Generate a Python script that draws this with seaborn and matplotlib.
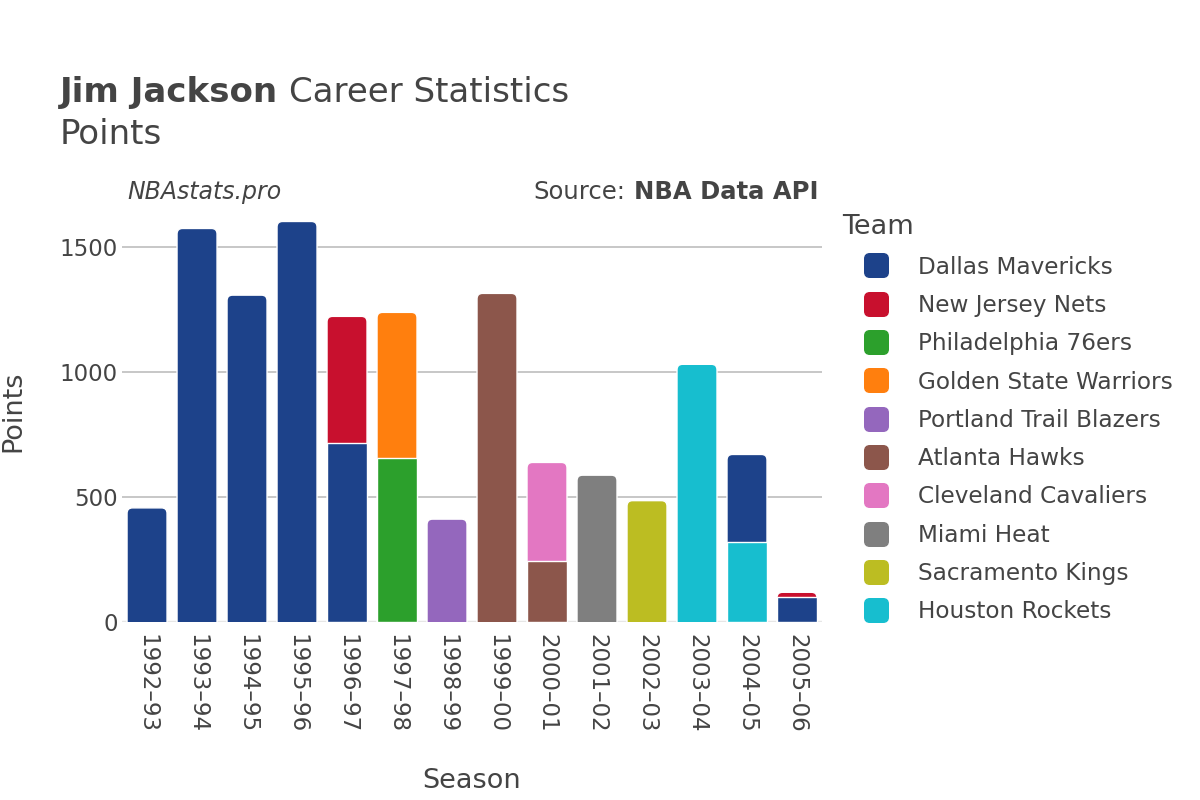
import matplotlib
matplotlib.use("Agg")
import matplotlib.pyplot as plt
from matplotlib.lines import Line2D
from matplotlib.patches import FancyBboxPatch
import numpy as np
import pandas as pd
import seaborn as sns

# ---- data ----
seasons = ["1992\u201393", "1993\u201394", "1994\u201395", "1995\u201396", "1996\u201397",
           "1997\u201398", "1998\u201399", "1999\u201300", "2000\u201301", "2001\u201302",
           "2002\u201303", "2003\u201304", "2004\u201305", "2005\u201306"]

# one row per stint, in the order the segments stack inside a season
seg_season = ["1992\u201393", "1993\u201394", "1994\u201395", "1995\u201396",
              "1996\u201397", "1996\u201397", "1997\u201398", "1997\u201398",
              "1998\u201399", "1999\u201300", "2000\u201301", "2000\u201301",
              "2001\u201302", "2002\u201303", "2003\u201304", "2004\u201305",
              "2004\u201305", "2005\u201306", "2005\u201306"]
seg_team = ["Dallas Mavericks", "Dallas Mavericks", "Dallas Mavericks", "Dallas Mavericks",
            "Dallas Mavericks", "New Jersey Nets", "Philadelphia 76ers", "Golden State Warriors",
            "Portland Trail Blazers", "Atlanta Hawks", "Atlanta Hawks", "Cleveland Cavaliers",
            "Miami Heat", "Sacramento Kings", "Houston Rockets", "Houston Rockets",
            "Dallas Mavericks", "Dallas Mavericks", "New Jersey Nets"]
seg_points = [457, 1576, 1309, 1604, 715, 509, 657, 583, 412, 1316, 244, 395,
              588, 486, 1032, 321, 350, 99, 20]

teams = ["Dallas Mavericks", "New Jersey Nets", "Philadelphia 76ers", "Golden State Warriors",
         "Portland Trail Blazers", "Atlanta Hawks", "Cleveland Cavaliers", "Miami Heat",
         "Sacramento Kings", "Houston Rockets"]
team_colors = ["#1d428a", "#c8102e", "#2ca02c", "#ff7f0e", "#9467bd",
               "#8c564b", "#e377c2", "#7f7f7f", "#bcbd22", "#17becf"]

TXT = "#444444"
YMAX = 1690

df = pd.DataFrame({"season": seg_season, "team": seg_team, "points": seg_points})
df["level"] = df.groupby("season").cumcount()
df["top"] = df.groupby("season")["points"].cumsum()
totals = df.groupby("season")["points"].sum()

sns.set_theme(style="white")
plt.rcParams["font.family"] = ["DejaVu Sans"]

fig = plt.figure(figsize=(12, 8), dpi=100)
ax = fig.add_axes([0.1017, 0.2225, 0.5833, 0.5275])

palette = dict(zip(teams, team_colors))
# draw highest stack level first, lower segments painted over it
for lvl in sorted(df["level"].unique(), reverse=True):
    sub = df[df["level"] == lvl]
    sns.barplot(data=sub, x="season", y="top", hue="team", order=seasons,
                hue_order=teams, palette=palette, dodge=False, width=0.8,
                saturation=1, edgecolor="white", linewidth=1.0, legend=False,
                ax=ax, zorder=3)

ax.set_ylim(0, YMAX)
ax.set_xlim(-0.5, len(seasons) - 0.5)

# round the top corners of each full stack (plotly-ish look)
x_per_px = len(seasons) / (0.5833 * 1200)
y_per_px = YMAX / (0.5275 * 800)
for p in list(ax.patches):
    h = p.get_height()
    if not np.isfinite(h) or h <= 0:
        continue
    idx = int(round(p.get_x() + p.get_width() / 2))
    if abs(h - totals[seasons[idx]]) > 0.5:
        continue
    rb = FancyBboxPatch((p.get_x(), -60), p.get_width(), h + 60,
                        boxstyle="round,pad=0,rounding_size=0.11",
                        mutation_aspect=y_per_px / x_per_px,
                        facecolor=p.get_facecolor(), edgecolor="white",
                        linewidth=1.0, zorder=2.9)
    p.remove()
    ax.add_patch(rb)

ax.set_yticks([0, 500, 1000, 1500])
ax.set_yticklabels(["0", "500", "1000", "1500"])
ax.grid(axis="y", color="#bdbdbd", linewidth=1.2, zorder=0)
ax.axhline(0, color="#e6e6e6", linewidth=2.5, zorder=2)
for s in ax.spines.values():
    s.set_visible(False)
ax.tick_params(axis="y", length=0, pad=3, labelsize=16.5, labelcolor=TXT)
ax.tick_params(axis="x", length=0, pad=9, labelsize=16.5, labelcolor=TXT)
for lab in ax.get_xticklabels():
    lab.set_rotation(270)
    lab.set_va("top")
    lab.set_ha("center")
ax.set_xlabel("Season", fontsize=19.5, color=TXT)
ax.set_ylabel("Points", fontsize=19.5, color=TXT)
ax.xaxis.set_label_coords(0.5, -0.345)
ax.yaxis.set_label_coords(-0.136, 0.5)

# titles
fig.canvas.draw()
r = fig.canvas.get_renderer()
t1 = fig.text(60 / 1200, 1 - 102 / 800, "Jim Jackson", fontsize=24.5, fontweight="bold",
              color=TXT, va="baseline", ha="left")
bb = t1.get_window_extent(r)
fig.text(bb.x1 / 1200 + 0.009, 1 - 102 / 800, "Career Statistics", fontsize=24.5,
         color=TXT, va="baseline", ha="left")
fig.text(60 / 1200, 1 - 144 / 800, "Points", fontsize=24.5, color=TXT,
         va="baseline", ha="left")

fig.text(127 / 1200, 1 - 199 / 800, "NBAstats.pro", fontsize=17, style="italic",
         color=TXT, va="baseline", ha="left")
t2 = fig.text(818 / 1200, 1 - 199 / 800, "NBA Data API", fontsize=17.5, fontweight="bold",
              color=TXT, va="baseline", ha="right")
bb2 = t2.get_window_extent(r)
fig.text(bb2.x0 / 1200 - 0.007, 1 - 199 / 800, "Source:", fontsize=17.5, color=TXT,
         va="baseline", ha="right")

# legend with rounded square swatches
rounded_sq = FancyBboxPatch((-0.5, -0.5), 1, 1,
                            boxstyle="round,pad=0,rounding_size=0.22").get_path()
handles = [Line2D([0], [0], marker=rounded_sq, linestyle="none", markersize=17,
                  markerfacecolor=c, markeredgecolor=c) for c in team_colors]
leg = fig.legend(handles, teams, loc="upper left", bbox_to_anchor=(833 / 1200, 1 - 205 / 800),
                 frameon=False, fontsize=16.7, title="Team", title_fontsize=19.5,
                 labelspacing=0.66, handletextpad=0.3, borderaxespad=0,
                 handlelength=2.95, alignment="left", labelcolor=TXT)
leg.get_title().set_color(TXT)

fig.savefig("out.png", dpi=100, facecolor="white")
